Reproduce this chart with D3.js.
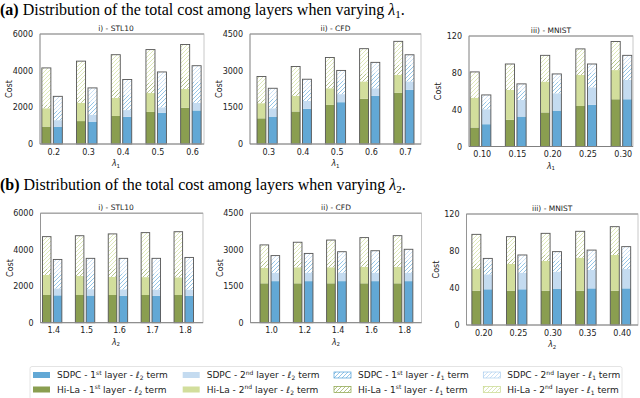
<!DOCTYPE html>
<html>
<head>
<meta charset="utf-8">
<script src="https://cdn.jsdelivr.net/npm/d3@7"></script>
<style>
body{margin:0;background:#fff}
svg{display:block}
</style>
</head>
<body>
<script>
// x categories
const lam1Stl = ['0.2','0.3','0.4','0.5','0.6']
const lam1Cfd = ['0.3','0.4','0.5','0.6','0.7']
const lam1Mnist = ['0.10','0.15','0.20','0.25','0.30']
const lam2Stl = ['1.4','1.5','1.6','1.7','1.8']
const lam2Cfd = ['1.0','1.2','1.4','1.6','1.8']
const lam2Mnist = ['0.20','0.25','0.30','0.35','0.40']

// y ticks
const yTicksStl = [0,2000,4000,6000]
const yTicksCfd = [0,1500,3000,4500]
const yTicksMnist = [0,40,80,120]

// each row: [1st layer l2, 2nd layer l2, 1st layer l1, 2nd layer l1]
const hilaStlA = [[950,1000,200,2000],[1250,1000,300,1970],[1530,990,430,1920],[1750,1030,570,1800],[1980,1020,650,1780]]
const sdpcStlA = [[930,370,520,780],[1220,380,700,760],[1480,370,850,820],[1700,300,1050,880],[1830,420,1150,870]]
const hilaCfdA = [[1050,620,160,930],[1330,640,180,1020],[1600,680,280,980],[1850,710,310,1030],[2100,730,410,960]]
const sdpcCfdA = [[1120,340,390,430],[1440,320,460,430],[1710,330,550,420],[1970,310,620,440],[2220,340,680,410]]
const hilaMnistA = [[20.6,32.4,1.5,26.5],[29,32.4,2.9,25.3],[37,33.5,4.5,24],[44,33.7,5.3,23],[51.3,31.7,11,20]]
const sdpcMnistA = [[24.2,16.3,8.3,7.2],[32.5,18.1,10.1,7.3],[39,18.8,12.7,8.3],[45.2,19.1,15.9,9.4],[51.3,21,16.2,10.5]]

const hilaStlB = [[1520,1100,340,1760],[1520,1040,420,1790],[1520,1000,460,1890],[1520,980,460,1980],[1520,970,470,2030]]
const sdpcStlB = [[1500,380,820,770],[1490,350,860,830],[1480,350,870,830],[1480,340,880,830],[1470,350,880,880]]
const hilaCfdB = [[1620,640,290,650],[1620,660,270,760],[1620,660,270,850],[1620,680,260,940],[1620,680,260,1020]]
const sdpcCfdB = [[1710,350,480,220],[1710,350,490,300],[1710,350,500,360],[1710,350,500,400],[1710,350,510,450]]
const hilaMnistB = [[37.1,23.4,6.2,31.3],[37.1,28.9,5.4,24.1],[37.1,32.1,6.5,23.4],[37.1,35.7,6.5,22],[37.1,38.6,7.2,23.4]]
const sdpcMnistB = [[38.6,16.2,11.2,6],[38.6,18,10.8,8.3],[38.9,18.8,11.8,9.8],[39.6,19.9,11.5,10],[39.6,20.9,13.4,10.8]]

const sans = 'DejaVu Sans'
const serif = 'Liberation Serif'

const svg = d3.select('body').append('svg').attr('width',640).attr('height',398)
const defs = svg.append('defs')

// hatch patterns ////
function hatch(id, color){
  const p = defs.append('pattern').attr('id',id).attr('patternUnits','userSpaceOnUse')
    .attr('width',4).attr('height',4)
  p.append('rect').attr('width',4).attr('height',4).attr('fill','#fff')
  p.append('path').attr('d','M-1,1 L1,-1 M0,4 L4,0 M3,5 L5,3')
    .attr('stroke',color).attr('stroke-width',0.6)
}
hatch('hS1','#4f9fd6')
hatch('hS2','#a9cdee')
hatch('hH1','#86a040')
hatch('hH2','#c6d889')

const fills = {
  sdpc: ['#62a8d5','#c4dbf0','url(#hS1)','url(#hS2)'],
  hila: ['#8a9e50','#d2de9c','url(#hH1)','url(#hH2)']
}
const edge = {sdpc:['#62a8d5','#c4dbf0','#4f9fd6','#a9cdee'], hila:['#8a9e50','#d2de9c','#86a040','#c6d889']}

const panels = [
  {title:'i) - STL10', cats:lam1Stl, yt:yTicksStl, hila:hilaStlA, sdpc:sdpcStlA, sub:'1', L:40, R:204, T:34, B:144, x0:53.3, dx:34.7, cx:116},
  {title:'ii) - CFD', cats:lam1Cfd, yt:yTicksCfd, hila:hilaCfdA, sdpc:sdpcCfdA, sub:'1', L:250, R:421, T:34, B:144, x0:268.3, dx:34.2},
  {title:'iii) - MNIST', cats:lam1Mnist, yt:yTicksMnist, hila:hilaMnistA, sdpc:sdpcMnistA, sub:'1', L:469, R:633, T:36, B:146.5, x0:481.7, dx:35.25},
  {title:'i) - STL10', cats:lam2Stl, yt:yTicksStl, hila:hilaStlB, sdpc:sdpcStlB, sub:'2', L:40.5, R:203, T:213.3, B:322.7, x0:53.3, dx:32.9, cx:116},
  {title:'ii) - CFD', cats:lam2Cfd, yt:yTicksCfd, hila:hilaCfdB, sdpc:sdpcCfdB, sub:'2', L:250.5, R:421.5, T:213.3, B:322.7, x0:271, dx:33.3},
  {title:'iii) - MNIST', cats:lam2Mnist, yt:yTicksMnist, hila:hilaMnistB, sdpc:sdpcMnistB, sub:'2', L:466.5, R:638, T:214, B:325, x0:483.3, dx:34.6}
]

const stack = d3.stack().keys([0,1,2,3])
const barW = 0.26

function drawPanel(p){
  const x = d3.scaleLinear().domain([(p.L-p.x0)/p.dx,(p.R-p.x0)/p.dx]).range([p.L,p.R])
  const y = d3.scaleLinear().domain([0,p.yt[p.yt.length-1]]).range([p.B,p.T])
  const g = svg.append('g')
  const cx = p.cx || (p.L+p.R)/2

  // bars, hi-la left of tick, sdpc right of tick
  ;[['hila',-0.33],['sdpc',0]].forEach(([k,off])=>{
    const layers = stack(p[k])
    layers.forEach((layer,li)=>{
      g.selectAll(null).data(layer).enter().append('rect')
        .attr('x',(d,i)=>x(i+off))
        .attr('width',x(barW)-x(0))
        .attr('y',d=>y(d[1]))
        .attr('height',d=>y(d[0])-y(d[1]))
        .attr('fill',fills[k][li])
    })
    // outline of the whole stack
    g.selectAll(null).data(layers[3]).enter().append('rect')
      .attr('x',(d,i)=>x(i+off))
      .attr('width',x(barW)-x(0))
      .attr('y',d=>y(d[1]))
      .attr('height',d=>y(0)-y(d[1]))
      .attr('fill','none').attr('stroke','#555').attr('stroke-width',0.9)
  })

  // frame
  g.append('rect').attr('x',p.L).attr('y',p.T).attr('width',p.R-p.L).attr('height',p.B-p.T)
    .attr('fill','none').attr('stroke','#c8c8c8').attr('stroke-width',1)
  g.append('line').attr('x1',p.L).attr('x2',p.R).attr('y1',p.T).attr('y2',p.T).attr('stroke','#aaa').attr('stroke-width',1.6)
  g.append('line').attr('x1',p.L).attr('x2',p.L).attr('y1',p.T).attr('y2',p.B).attr('stroke','#888').attr('stroke-width',0.8)
  g.append('line').attr('x1',p.L).attr('x2',p.R).attr('y1',p.B).attr('y2',p.B).attr('stroke','#777').attr('stroke-width',0.9)

  const xa = g.append('g').attr('transform',`translate(0,${p.B})`)
    .call(d3.axisBottom(x).tickValues(d3.range(p.cats.length)).tickFormat(i=>p.cats[i]).tickSize(0).tickPadding(5))
  const ya = g.append('g').attr('transform',`translate(${p.L},0)`)
    .call(d3.axisLeft(y).tickValues(p.yt).tickFormat(d3.format('d')).tickSize(0).tickPadding(7))
  ;[xa,ya].forEach(a=>{
    a.select('.domain').remove()
    a.selectAll('text').attr('font-family',sans).attr('font-size',8).attr('fill','#222')
  })

  g.append('text').attr('x',cx).attr('y',p.T-3).attr('text-anchor','middle')
    .attr('font-family',sans).attr('font-size',7.5).attr('fill','#222').text(p.title)

  g.append('text').attr('transform',`translate(${p.L-28},${(p.T+p.B)/2}) rotate(-90)`)
    .attr('text-anchor','middle').attr('font-family',sans).attr('font-size',8).attr('fill','#222').text('Cost')

  const xl = g.append('text').attr('x',cx).attr('y',p.B+22).attr('text-anchor','middle')
    .attr('font-family',sans).attr('font-size',8).attr('fill','#222')
  xl.append('tspan').attr('font-style','italic').text('λ')
  xl.append('tspan').attr('font-size',5.5).attr('dy',1.5).text(p.sub)
}
panels.forEach(drawPanel)

// headings
function heading(y, tag, sub){
  const t = svg.append('text').attr('x',0).attr('y',y).attr('font-family',serif).attr('font-size',16).attr('fill','#000')
  t.append('tspan').attr('font-weight','bold').text(tag)
  t.append('tspan').text(' Distribution of the total cost among layers when varying ')
  t.append('tspan').attr('font-style','italic').text('λ')
  t.append('tspan').attr('font-size',11).attr('dy',3).text(sub)
  t.append('tspan').attr('dy',-3).text('.')
}
heading(15,'(a)','1')
heading(190,'(b)','2')

// legend
const legCols = [['1','st','2'],['2','nd','2'],['1','st','1'],['2','nd','1']]
const legRows = [['SDPC','sdpc'],['Hi-La','hila']]
const swX = [33,182.7,334,483.3]
const rowY = [375,389.5]
svg.append('rect').attr('x',30).attr('y',366.5).attr('width',592).attr('height',33).attr('rx',2)
  .attr('fill','#fff').attr('stroke','#ddd').attr('stroke-width',0.8)
legRows.forEach(([name,k],r)=>{
  legCols.forEach(([n,sup,l],c)=>{
    svg.append('rect').attr('x',swX[c]).attr('y',rowY[r]-3).attr('width',17).attr('height',6)
      .attr('fill',fills[k][c]).attr('stroke',c>1?edge[k][c]:'none').attr('stroke-width',0.7)
    const t = svg.append('text').attr('x',swX[c]+24).attr('y',rowY[r]+3.2).attr('font-family',sans)
      .attr('font-size',9).attr('fill','#222')
    t.append('tspan').text(name+' - '+n)
    t.append('tspan').attr('font-size',6).attr('dy',-3.5).text(sup)
    t.append('tspan').attr('dy',3.5).text(' layer  - ')
    t.append('tspan').attr('font-style','italic').text('ℓ')
    t.append('tspan').attr('font-size',6).attr('dy',1.8).text(l)
    t.append('tspan').attr('dy',-1.8).text(' term')
  })
})
</script>
</body>
</html>
